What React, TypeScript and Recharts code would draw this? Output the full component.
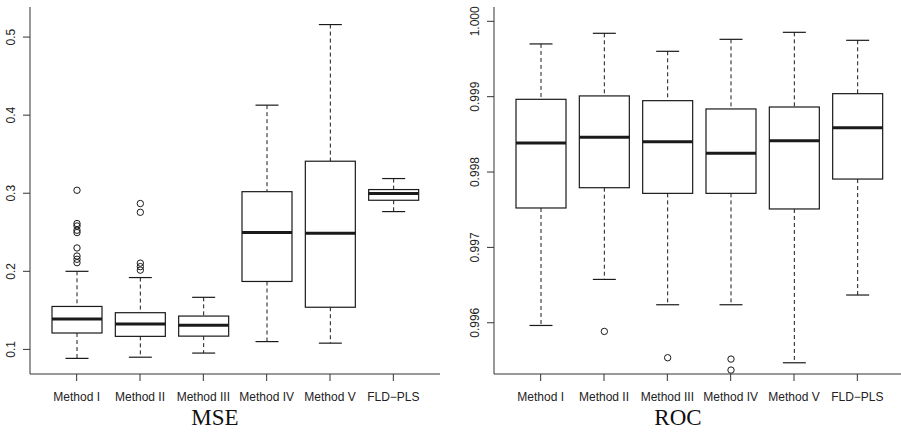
import { ComposedChart, Bar, XAxis, YAxis } from 'recharts'

const METHODS = ['Method I', 'Method II', 'Method III', 'Method IV', 'Method V', 'FLD\u2212PLS']

// MSE summary per method: whisker ends, quartiles, median and outlying points
const MSE_LOW = [0.0885, 0.09, 0.0953, 0.11, 0.108, 0.2765]
const MSE_Q1 = [0.121, 0.1167, 0.117, 0.187, 0.154, 0.291]
const MSE_MED = [0.139, 0.1325, 0.131, 0.2496, 0.2487, 0.2996]
const MSE_Q3 = [0.155, 0.147, 0.1427, 0.302, 0.341, 0.3047]
const MSE_HIGH = [0.2, 0.192, 0.1667, 0.4128, 0.516, 0.3188]
const MSE_OUT = [
  [0.3038, 0.2612, 0.2581, 0.2526, 0.2496, 0.2299, 0.2196, 0.2154, 0.2111],
  [0.2868, 0.2756, 0.2105, 0.206, 0.2015],
  [],
  [],
  [],
  [],
]
const MSE_TICKS = [0.1, 0.2, 0.3, 0.4, 0.5]

// ROC summary per method
const ROC_LOW = [0.995964, 0.996575, 0.996239, 0.996239, 0.995469, 0.996368]
const ROC_Q1 = [0.997523, 0.997792, 0.997717, 0.997717, 0.99751, 0.997907]
const ROC_MED = [0.998386, 0.99846, 0.998403, 0.998248, 0.998416, 0.998589]
const ROC_Q3 = [0.998965, 0.99901, 0.998947, 0.998837, 0.998863, 0.99904]
const ROC_HIGH = [0.9997, 0.999841, 0.999602, 0.999761, 0.999854, 0.999748]
const ROC_OUT = [[], [0.995885], [0.995536], [0.995518, 0.995372], [], []]
const ROC_TICKS = [0.996, 0.997, 0.998, 0.999, 1.0]

const INK = '#1a1a1a'
const FRAME = '#333'
const SANS = '"Liberation Sans", Arial, Helvetica, sans-serif'

type Row = { name: string; low: number; q1: number; med: number; q3: number; high: number; out: number[] }

function buildRows(low: number[], q1: number[], med: number[], q3: number[], high: number[], out: number[][]): Row[] {
  return METHODS.map((name, i) => ({ name, low: low[i], q1: q1[i], med: med[i], q3: q3[i], high: high[i], out: out[i] }))
}

const mseRows = buildRows(MSE_LOW, MSE_Q1, MSE_MED, MSE_Q3, MSE_HIGH, MSE_OUT)
const rocRows = buildRows(ROC_LOW, ROC_Q1, ROC_MED, ROC_Q3, ROC_HIGH, ROC_OUT)

// The bar spans low..high whisker; everything else is placed on that same linear scale
function BoxShape(props: any) {
  const { x, y, width, height, payload } = props
  if (!payload) return null
  const top = Math.min(y, y + height)
  const span = Math.abs(height)
  const { low, high } = payload as Row
  const py = (v: number) => top + ((high - v) / (high - low)) * span
  const cx = x + width / 2
  const cap = width * 0.23
  const yQ1 = py(payload.q1)
  const yQ3 = py(payload.q3)
  return (
    <g fill="none" stroke={INK}>
      <line x1={cx} x2={cx} y1={py(high)} y2={yQ3} strokeDasharray="4 3" strokeWidth={1} />
      <line x1={cx} x2={cx} y1={yQ1} y2={py(low)} strokeDasharray="4 3" strokeWidth={1} />
      <line x1={cx - cap} x2={cx + cap} y1={py(high)} y2={py(high)} strokeWidth={1.2} />
      <line x1={cx - cap} x2={cx + cap} y1={py(low)} y2={py(low)} strokeWidth={1.2} />
      <rect x={x} y={yQ3} width={width} height={yQ1 - yQ3} fill="#fff" strokeWidth={1.2} />
      <line x1={x} x2={x + width} y1={py(payload.med)} y2={py(payload.med)} strokeWidth={3} />
      {payload.out.map((v: number, i: number) => (
        <circle key={i} cx={cx} cy={py(v)} r={3.2} strokeWidth={1} />
      ))}
    </g>
  )
}

function makeYTick(fmt: (v: number) => string) {
  return (props: any) => {
    const { x, y, payload } = props
    const bx = x - 7.5
    return (
      <text x={bx} y={y} transform={`rotate(-90, ${bx}, ${y})`} textAnchor="middle" fontSize={12} fontFamily={SANS} fill="#222">
        {fmt(payload.value)}
      </text>
    )
  }
}

interface PanelProps {
  rows: Row[]
  domain: [number, number]
  ticks: number[]
  fmt: (v: number) => string
  width: number
  yWidth: number
  right: number
}

function BoxPanel({ rows, domain, ticks, fmt, width, yWidth, right }: PanelProps) {
  return (
    <ComposedChart width={width} height={432} data={rows} margin={{ top: 7, right, bottom: 0, left: 0 }}>
      <XAxis
        dataKey="name"
        height={58}
        padding={{ left: 15, right: 15 }}
        tickSize={7}
        tickMargin={11}
        interval={0}
        stroke={FRAME}
        tick={{ fontSize: 12, fontFamily: SANS, fill: '#222' }}
      />
      <XAxis xAxisId="top" orientation="top" dataKey="name" height={0} tick={false} tickLine={false} stroke={FRAME} />
      <YAxis
        type="number"
        domain={domain}
        ticks={ticks}
        allowDataOverflow
        width={yWidth}
        tickSize={7}
        tickMargin={0}
        stroke={FRAME}
        tick={makeYTick(fmt)}
      />
      <YAxis yAxisId="right" orientation="right" type="number" domain={domain} width={0} tick={false} tickLine={false} stroke={FRAME} />
      <Bar dataKey={(d: Row) => [d.low, d.high]} barSize={50} shape={BoxShape} isAnimationActive={false} />
    </ComposedChart>
  )
}

export default function App() {
  return (
    <div style={{ position: 'absolute', left: 0, top: 0, width: 901, height: 432, overflow: 'hidden', background: '#fff' }}>
      <div style={{ position: 'absolute', left: 0, top: 0 }}>
        <BoxPanel rows={mseRows} domain={[0.0685, 0.5385]} ticks={MSE_TICKS} fmt={(v) => v.toFixed(1)} width={450} yWidth={30} right={10} />
      </div>
      <div style={{ position: 'absolute', left: 450, top: 0 }}>
        <BoxPanel rows={rocRows} domain={[0.99532, 1.00019]} ticks={ROC_TICKS} fmt={(v) => v.toFixed(3)} width={456} yWidth={44} right={2} />
      </div>
      <svg width={901} height={432} style={{ position: 'absolute', left: 0, top: 0, pointerEvents: 'none' }}>
        <text x={215} y={425} textAnchor="middle" fontSize={23} fontFamily='"Liberation Serif", "Times New Roman", serif' fill="#111">
          MSE
        </text>
        <text x={678} y={425} textAnchor="middle" fontSize={23} fontFamily='"Liberation Serif", "Times New Roman", serif' fill="#111">
          ROC
        </text>
      </svg>
    </div>
  )
}
